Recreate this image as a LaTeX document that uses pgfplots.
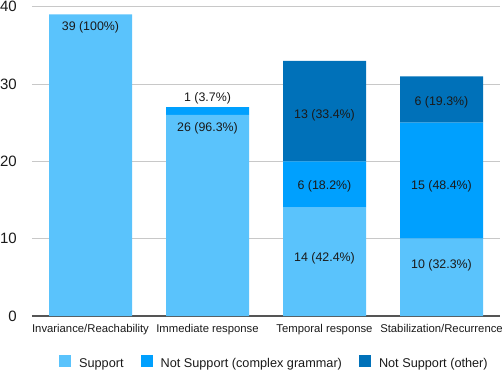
\documentclass[border=0pt]{standalone}
\usepackage{fontspec}
\setmainfont{Liberation Sans}
\usepackage{pgfplots}
\pgfplotsset{compat=1.18}
\definecolor{cSup}{HTML}{5AC3FC}
\definecolor{cCx}{HTML}{00A0FE}
\definecolor{cOth}{HTML}{0071B9}
\definecolor{gridc}{HTML}{C8C8C8}
\definecolor{axc}{HTML}{555555}
\definecolor{txt}{HTML}{1A1A1A}
\tikzset{lbl/.style={font=\fontsize{12.4}{13}\selectfont, text=txt}}
\begin{document}
\begin{tikzpicture}
\begin{axis}[
  name=ax,
  scale only axis,
  width=468pt, height=309.3pt,
  ybar stacked,
  bar width=83pt,
  xmin=-0.5, xmax=3.5,
  ymin=0, ymax=40,
  xtick={0,1,2,3},
  xticklabels={Invariance/Reachability, Immediate response, Temporal response, Stabilization/Recurrence},
  ytick={0,10,20,30,40},
  major tick length=0pt,
  axis x line*=bottom,
  axis y line*=left,
  x axis line style={axc, line width=2pt},
  y axis line style={draw=none},
  ymajorgrids,
  grid style={gridc, line width=1pt},
  /pgf/number format/assume math mode=true,
  yticklabel style={font=\fontsize{15}{15}\selectfont, text=txt, anchor=east, inner sep=0pt, xshift=-15pt},
  xticklabel style={font=\fontsize{11.3}{12}\selectfont, text=txt, anchor=base, yshift=-16pt},
  legend columns=3,
  legend style={at={(0.518,-0.152)}, anchor=center, draw=none, fill=none,
    font=\fontsize{12.7}{13}\selectfont, text=txt,
    /tikz/every odd column/.append style={column sep=6pt},
    /tikz/every even column/.append style={column sep=15pt}},
  legend image code/.code={\fill[#1] (0pt,-3pt) rectangle (12pt,9pt);},
]
\addplot[fill=cSup, draw=none] coordinates {(0,39) (1,26) (2,14) (3,10)};
\addplot[fill=cCx, draw=none] coordinates {(0,0) (1,1) (2,6) (3,15)};
\addplot[fill=cOth, draw=none] coordinates {(0,0) (1,0) (2,13) (3,6)};
\legend{Support, Not Support (complex grammar), Not Support (other)}
\coordinate (a1) at (axis cs:0,37.4);
\coordinate (b2) at (axis cs:1,28.2);
\coordinate (b1) at (axis cs:1,24.3);
\coordinate (c1) at (axis cs:2,7.5);
\coordinate (c2) at (axis cs:2,16.8);
\coordinate (c3) at (axis cs:2,26.0);
\coordinate (d1) at (axis cs:3,6.6);
\coordinate (d2) at (axis cs:3,16.8);
\coordinate (d3) at (axis cs:3,27.6);
\end{axis}
\node[lbl] at (a1) {39 (100\%)};
\node[lbl] at (b2) {1 (3.7\%)};
\node[lbl] at (b1) {26 (96.3\%)};
\node[lbl] at (c1) {14 (42.4\%)};
\node[lbl] at (c2) {6 (18.2\%)};
\node[lbl] at (c3) {13 (33.4\%)};
\node[lbl] at (d1) {10 (32.3\%)};
\node[lbl] at (d2) {15 (48.4\%)};
\node[lbl] at (d3) {6 (19.3\%)};
\pgfresetboundingbox
\path[use as bounding box] ([shift={(-32pt,-56pt)}]ax.south west) rectangle ([shift={(2pt,6.7pt)}]ax.north east);
\end{tikzpicture}
\end{document}
